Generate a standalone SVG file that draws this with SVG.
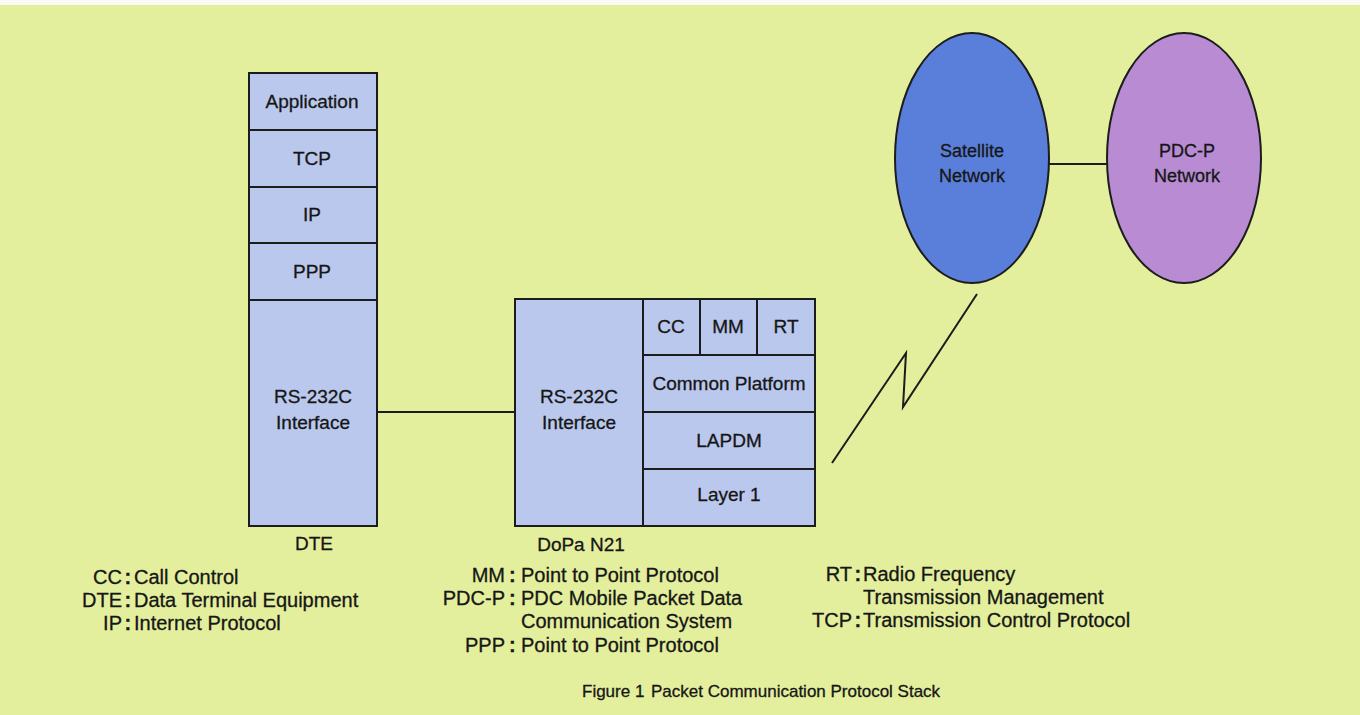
<svg xmlns="http://www.w3.org/2000/svg" width="1360" height="715" viewBox="0 0 1360 715">
<style>
.bg{fill:#e3ef9c}
.box{fill:#b9c8ec;stroke:#1c1c1c;stroke-width:2}
.ln{fill:none;stroke:#1c1c1c;stroke-width:2}
.t{font-family:"Liberation Sans",Arial,sans-serif;font-size:19px;fill:#161616;stroke:#161616;stroke-width:0.3;text-anchor:middle}
.e{font-size:18px}
.lg{font-family:"Liberation Sans",Arial,sans-serif;font-size:20px;fill:#161616;stroke:#161616;stroke-width:0.3}
.cap{font-size:17px}
.c{font-weight:bold}
</style>
<rect class="bg" x="0" y="0" width="1360" height="715"/>
<rect x="0" y="0" width="1360" height="5" fill="#fbfbf4"/>

<g id="connectors">
<line class="ln" x1="378" y1="412" x2="515" y2="412"/>
<line class="ln" x1="1049" y1="164" x2="1107" y2="164"/>
<polyline class="ln" points="832,463 906,353 903,407 977,294"/>
</g>

<g id="dte">
<rect class="box" x="249" y="73" width="128" height="453"/>
<line class="ln" x1="249" y1="130" x2="377" y2="130"/>
<line class="ln" x1="249" y1="187" x2="377" y2="187"/>
<line class="ln" x1="249" y1="243" x2="377" y2="243"/>
<line class="ln" x1="249" y1="300" x2="377" y2="300"/>
<text class="t" x="312" y="108">Application</text>
<text class="t" x="312" y="165">TCP</text>
<text class="t" x="312" y="221">IP</text>
<text class="t" x="312" y="278">PPP</text>
<text class="t" x="313" y="403">RS-232C</text>
<text class="t" x="313" y="429">Interface</text>
<text class="t" x="314" y="550">DTE</text>
</g>

<g id="dopa">
<rect class="box" x="515" y="299" width="300" height="227"/>
<line class="ln" x1="643" y1="299" x2="643" y2="526"/>
<line class="ln" x1="700" y1="299" x2="700" y2="355"/>
<line class="ln" x1="757" y1="299" x2="757" y2="355"/>
<line class="ln" x1="643" y1="355" x2="815" y2="355"/>
<line class="ln" x1="643" y1="412" x2="815" y2="412"/>
<line class="ln" x1="643" y1="469" x2="815" y2="469"/>
<text class="t" x="579" y="403">RS-232C</text>
<text class="t" x="579" y="429">Interface</text>
<text class="t" x="671" y="333">CC</text>
<text class="t" x="728" y="333">MM</text>
<text class="t" x="786" y="333">RT</text>
<text class="t" x="729" y="390">Common Platform</text>
<text class="t" x="729" y="447">LAPDM</text>
<text class="t" x="729" y="501">Layer 1</text>
<text class="t" x="581" y="551">DoPa N21</text>
</g>

<g id="satellite">
<ellipse cx="972" cy="158" rx="77" ry="125" fill="#5a7fdb" stroke="#1c1c1c" stroke-width="2"/>
<text class="t e" x="972" y="157">Satellite</text>
<text class="t e" x="972" y="182">Network</text>
</g>

<g id="pdcp">
<ellipse cx="1184" cy="158" rx="77" ry="125" fill="#b88bd3" stroke="#1c1c1c" stroke-width="2"/>
<text class="t e" x="1187" y="157">PDC-P</text>
<text class="t e" x="1187" y="182">Network</text>
</g>

<g id="legend">
<text class="lg" y="584"><tspan x="122" text-anchor="end">CC</tspan><tspan class="c" x="124.5">:</tspan><tspan x="134">Call Control</tspan></text>
<text class="lg" y="607"><tspan x="122" text-anchor="end">DTE</tspan><tspan class="c" x="124.5">:</tspan><tspan x="134">Data Terminal Equipment</tspan></text>
<text class="lg" y="630"><tspan x="122" text-anchor="end">IP</tspan><tspan class="c" x="124.5">:</tspan><tspan x="134">Internet Protocol</tspan></text>

<text class="lg" y="582"><tspan x="505" text-anchor="end">MM</tspan><tspan class="c" x="509">:</tspan><tspan x="521">Point to Point Protocol</tspan></text>
<text class="lg" y="605"><tspan x="505" text-anchor="end">PDC-P</tspan><tspan class="c" x="509">:</tspan><tspan x="521">PDC Mobile Packet Data</tspan></text>
<text class="lg" x="521" y="628">Communication System</text>
<text class="lg" y="652"><tspan x="505" text-anchor="end">PPP</tspan><tspan class="c" x="509">:</tspan><tspan x="521">Point to Point Protocol</tspan></text>

<text class="lg" y="581"><tspan x="852" text-anchor="end">RT</tspan><tspan class="c" x="854.5">:</tspan><tspan x="863">Radio Frequency</tspan></text>
<text class="lg" x="863" y="604">Transmission Management</text>
<text class="lg" y="627"><tspan x="852" text-anchor="end">TCP</tspan><tspan class="c" x="854.5">:</tspan><tspan x="863">Transmission Control Protocol</tspan></text>
</g>

<g id="caption">
<text class="lg cap" y="697"><tspan x="582">Figure 1</tspan><tspan x="651">Packet Communication Protocol Stack</tspan></text>
</g>
</svg>
